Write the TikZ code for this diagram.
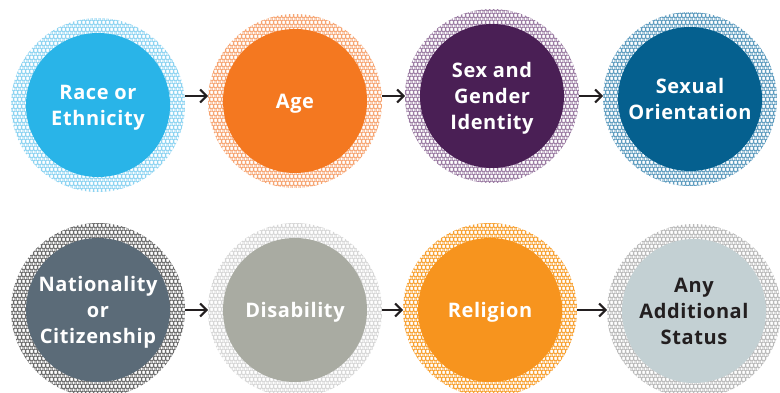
\documentclass[tikz,border=0pt]{standalone}
\usepackage{fontspec}
\setmainfont{Open Sans}[LetterSpace=3]
\usetikzlibrary{positioning, arrows.meta, backgrounds, patterns}
\definecolor{cSky}{HTML}{29B4E8}
\definecolor{cOrange}{HTML}{F47820}
\definecolor{cPlum}{HTML}{4A1F55}
\definecolor{cNavy}{HTML}{05608F}
\definecolor{cSlate}{HTML}{5B6B78}
\definecolor{cStone}{HTML}{A9ABA2}
\definecolor{cAmber}{HTML}{F7941E}
\definecolor{cMist}{HTML}{C3D0D3}
\definecolor{cInk}{HTML}{231F20}
% ring tints
\definecolor{rSky}{HTML}{8CD3F1}
\definecolor{rOrange}{HTML}{F6A472}
\definecolor{rPlum}{HTML}{9A7BA2}
\definecolor{rNavy}{HTML}{5D9BBE}
\definecolor{rSlate}{HTML}{6A6A6A}
\definecolor{rStone}{HTML}{D6D6D6}
\definecolor{rAmber}{HTML}{F7A030}
\definecolor{rMist}{HTML}{B9B9B9}

% small interlocking circles for the halo rings
\pgfdeclarepatternformonly{chainmesh}{\pgfpointorigin}{\pgfpoint{4pt}{7pt}}{\pgfpoint{4pt}{7pt}}{%
    \pgfsetlinewidth{0.5pt}%
    \pgfpathcircle{\pgfpoint{0pt}{0pt}}{2.2pt}%
    \pgfpathcircle{\pgfpoint{4pt}{0pt}}{2.2pt}%
    \pgfpathcircle{\pgfpoint{0pt}{7pt}}{2.2pt}%
    \pgfpathcircle{\pgfpoint{4pt}{7pt}}{2.2pt}%
    \pgfpathcircle{\pgfpoint{2pt}{3.5pt}}{2.2pt}%
    \pgfusepath{stroke}%
}

\begin{document}
\begin{tikzpicture}[
    x=1pt, y=-1pt,
    ground/.style={
        circle, minimum size=144pt, inner sep=0pt, outer sep=15pt,
        align=center, text=white, text depth=0pt,
        font=\fontsize{20}{26}\selectfont\bfseries
    },
    arr/.style={-{Straight Barb[length=6.5pt, width=13pt]}, line width=2.1pt, draw=cInk},
]
\useasboundingbox (0,0) rectangle (780,393);

% =============================================
% TOP ROW
% =============================================
\node[ground, fill=cSky]    (race)   at (98,105)  {Race or\\Ethnicity};
\node[ground, fill=cOrange] (age)    at (295,101) {Age};
\node[ground, fill=cPlum]   (sex)    at (492,96)  {Sex and\\Gender\\Identity};
\node[ground, fill=cNavy]   (orient) at (690,99)  {Sexual\\Orientation};

% =============================================
% BOTTOM ROW
% =============================================
\node[ground, fill=cSlate]  (nation) at (98,310)  {Nationality\\or\\Citizenship};
\node[ground, fill=cStone]  (disab)  at (295,310) {Disability};
\node[ground, fill=cAmber]  (relig)  at (490,310) {Religion};
\node[ground, fill=cMist, text=cInk] (status) at (694,311) {Any\\Additional\\Status};

% halo rings behind each circle
\begin{scope}[on background layer]
    \foreach \n/\c in {race/rSky, age/rOrange, sex/rPlum, orient/rNavy,
                       nation/rSlate, disab/rStone, relig/rAmber, status/rMist} {
        \fill[pattern=chainmesh, pattern color=\c] (\n.center) circle (87);
    }
\end{scope}

% arrows
\coordinate (rowA) at (0,96);
\coordinate (rowB) at (0,310);
\draw[arr] (race.east |- rowA) -- (age.west |- rowA);
\draw[arr] (age.east |- rowA) -- (sex.west |- rowA);
\draw[arr] (sex.east |- rowA) -- (orient.west |- rowA);
\draw[arr] (nation.east |- rowB) -- (disab.west |- rowB);
\draw[arr] (disab.east |- rowB) -- (relig.west |- rowB);
\draw[arr] (relig.east |- rowB) -- (status.west |- rowB);

\end{tikzpicture}
\end{document}
